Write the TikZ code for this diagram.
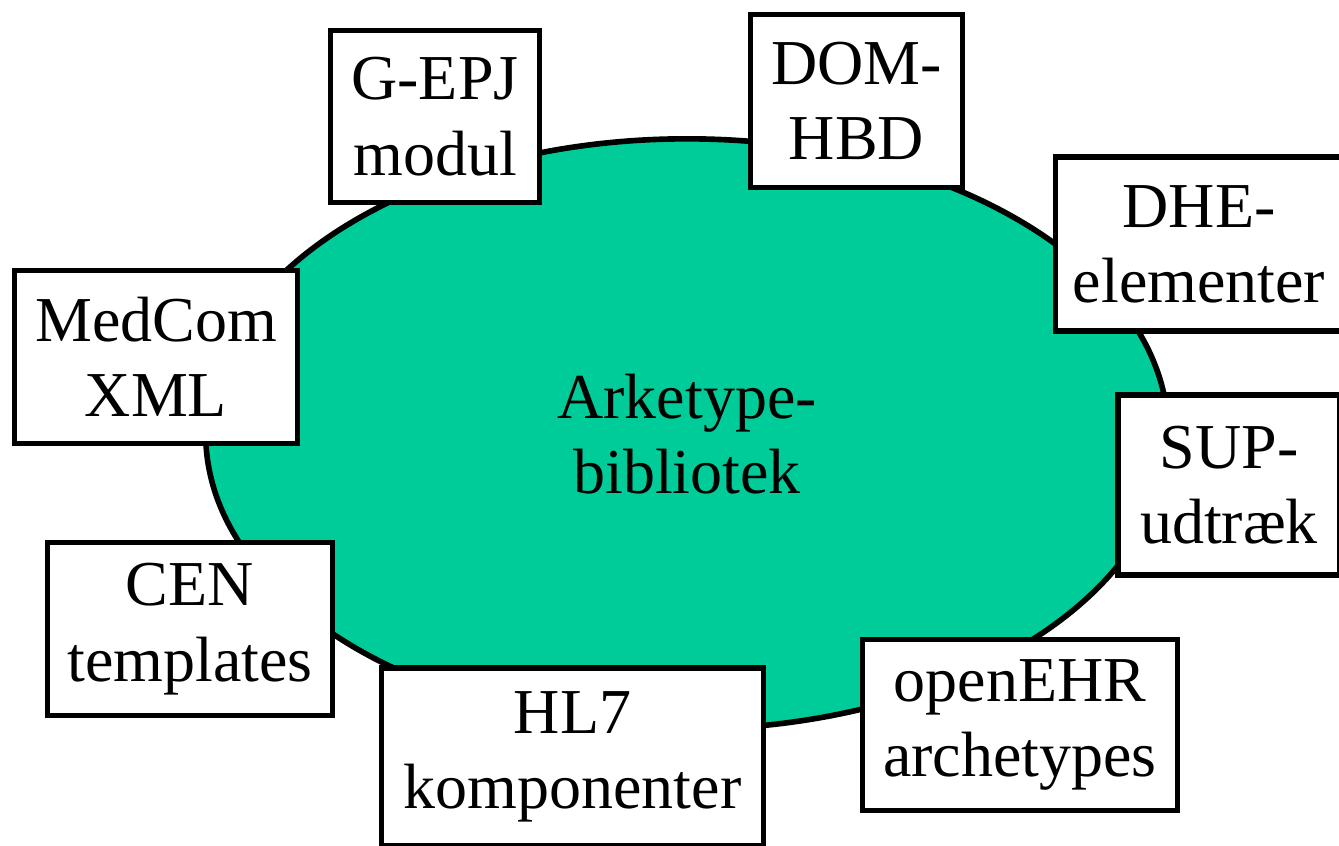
\documentclass[tikz,border=0pt]{standalone}
\usepackage{fontspec}
\setmainfont{Liberation Serif}
\usetikzlibrary{shapes.geometric}
\definecolor{libgreen}{HTML}{00CC99}
\tikzset{
  lbox/.style={draw, line width=1.6pt, fill=white, align=center, inner sep=0pt,
    font=\fontsize{18.2}{21.4}\selectfont},
  lib/.style={ellipse, draw, line width=1.6pt, fill=libgreen, align=center, inner sep=0pt,
    font=\fontsize{18.2}{21.4}\selectfont}
}
\begin{document}
\begin{tikzpicture}[x=0.01cm,y=-0.01cm]
\useasboundingbox (0,0) rectangle (1339,845);
\clip (0,0) rectangle (1339,845);
\node[lib, minimum width=9.62cm, minimum height=5.90cm] (bib) at (687,434) {Arketype-\\bibliotek};
\node[lbox, minimum width=2.09cm, minimum height=1.72cm] (gepj) at (435,116.5) {G-EPJ\\modul};
\node[lbox, minimum width=2.12cm, minimum height=1.73cm] (dom) at (856.5,101) {DOM-\\HBD};
\node[lbox, minimum width=2.87cm, minimum height=1.74cm] (dhe) at (1199,244) {DHE-\\elementer};
\node[lbox, minimum width=2.83cm, minimum height=1.73cm] (medcom) at (156,357) {MedCom\\XML};
\node[lbox, minimum width=2.22cm, minimum height=1.80cm] (sup) at (1229,485) {SUP-\\udtræk};
\node[lbox, minimum width=2.85cm, minimum height=1.73cm] (cen) at (190,629) {CEN\\templates};
\node[lbox, minimum width=3.82cm, minimum height=1.78cm] (hl7) at (572.5,757) {HL7\\komponenter};
\node[lbox, minimum width=3.15cm, minimum height=1.71cm] (oehr) at (1020,725) {openEHR\\archetypes};
\end{tikzpicture}
\end{document}
